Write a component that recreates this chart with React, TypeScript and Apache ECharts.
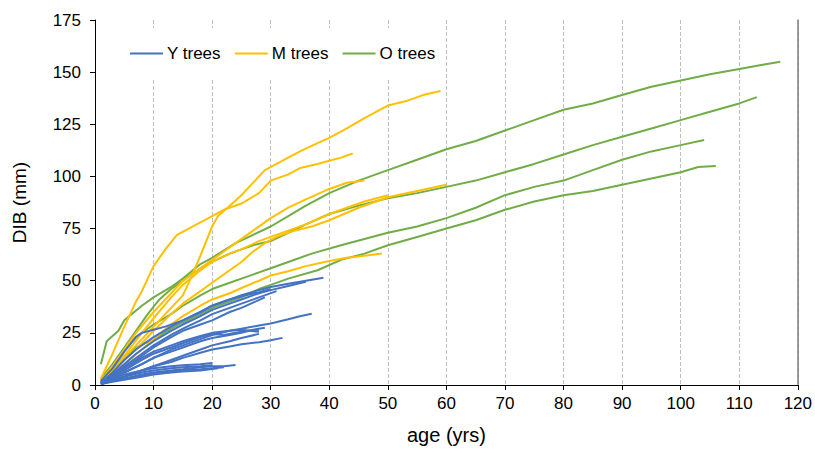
import React, { useEffect, useRef } from "react";
import * as echarts from "echarts";

// ---- Y trees (blue) ----
const U1: [number, number][] = [[1,1],[3,6],[5,12],[7,17],[10,23],[13,28],[15,31],[18,35],[20,38],[23,41],[25,43],[28,45.5],[30,47],[33,48.5],[36,50],[39,51.4]];
const U2: [number, number][] = [[1,1],[3,5],[5,10],[7,15],[10,21],[13,26],[15,29],[18,33],[20,36],[23,39],[25,41],[28,44],[30,45.5],[33,47.5],[36,49.5]];
const U3: [number, number][] = [[1,2],[3,8],[5,16],[7,23],[8,25],[10,26.5],[12,28],[15,31],[18,35],[20,38],[23,41],[25,42.5],[28,44.5],[30,46]];
const U4: [number, number][] = [[1,1],[3,5],[5,9],[8,15],[10,19],[13,24],[15,27],[18,31],[20,34],[23,37],[25,39],[28,42],[31,45]];
const U5: [number, number][] = [[1,1],[3,4],[5,8],[8,14],[10,18],[13,23],[15,26],[18,29],[20,31],[23,35],[25,37],[27,39.5],[29,42]];
const M1: [number, number][] = [[1,1],[3,3],[5,6],[8,10],[10,13],[13,17],[15,19],[18,22],[20,24],[23,26],[25,27],[28,28.5],[30,29.5],[33,31.5],[35,33],[37,34.2]];
const M2: [number, number][] = [[1,0.5],[3,2],[5,4],[8,7],[10,9],[13,11],[15,13],[18,15.5],[20,17],[23,18.5],[25,19.5],[28,20.5],[30,21.5],[32,22.6]];
const M3: [number, number][] = [[1,1],[3,3],[5,6],[8,10],[10,13],[13,16],[15,18],[18,21],[20,22.5],[23,24],[25,25],[27,26.5],[29,27.5]];
const M4: [number, number][] = [[1,1],[3,4],[5,7],[8,12],[10,15],[13,18],[15,20],[18,23],[20,24.5],[22,24],[24,25],[26,26],[28,26.5]];
const M5: [number, number][] = [[1,1],[3,4],[5,8],[8,13],[10,16],[13,19],[15,21],[18,23.5],[20,25],[23,26],[25,26.5],[28,25.5]];
const M6: [number, number][] = [[1,0.5],[3,2],[5,4],[8,7],[10,9],[13,12],[15,14],[18,17],[20,19],[23,21],[25,22.5],[28,24.5]];
const L1: [number, number][] = [[1,0.5],[3,2],[5,3],[8,5],[10,6],[13,7],[15,7.5],[18,8.5],[20,9],[22,9],[24,9.6]];
const L2: [number, number][] = [[1,0.5],[3,2],[5,3],[8,4.5],[10,5.5],[13,6.5],[15,7],[18,7.5],[20,8],[22,8.5]];
const L3: [number, number][] = [[1,1],[3,2.5],[5,4],[8,6],[10,7],[13,8],[15,8.5],[18,9],[20,9.5]];
const L4: [number, number][] = [[1,0.5],[3,1.5],[5,2.5],[8,4],[10,5],[13,6],[15,6.5],[18,7],[21,8]];
const L5: [number, number][] = [[1,1],[3,3],[5,5],[8,7],[10,8],[13,9],[15,9.5],[18,10],[20,10.5]];

// ---- M trees (yellow) ----
const Y1: [number, number][] = [[1,2],[3,7],[5,13],[8,22],[10,28],[12,34],[14,40],[15,43],[16,49],[18,62],[20,76],[21,81],[23,86],[25,91],[27,97],[29,103],[31,106],[33,109],[35,112],[38,116],[40,118.5],[43,123],[46,128],[48,131],[50,134],[53,136],[56,139],[59,141]];
const Y2: [number, number][] = [[1,3],[3,15],[5,28],[7,40],[8,45],[10,57],[12,65],[14,72],[16,75],[18,78],[20,81],[22,84],[25,87],[28,92],[30,98],[33,101],[35,104],[38,106],[40,107.5],[42,109],[44,111]];
const Y3: [number, number][] = [[1,2],[3,9],[5,17],[7,25],[10,35],[13,44],[15,50],[18,56],[20,60],[22,64],[24,68],[27,74],[30,80],[33,85],[36,89],[40,94],[43,97],[46,98]];
const Y4: [number, number][] = [[1,2],[3,8],[5,14],[8,25],[10,32],[13,42],[15,48],[18,55],[20,59],[23,63],[25,65],[28,69],[30,71],[33,74],[36,77],[40,82],[43,85],[46,88],[50,91]];
const Y5: [number, number][] = [[1,1],[3,6],[5,12],[8,20],[10,26],[13,34],[15,39],[18,45],[20,49],[23,55],[25,59],[27,64],[29,68],[31,71],[34,74],[37,76],[40,79],[45,85],[50,90],[55,93],[60,96]];
const Y6: [number, number][] = [[1,1],[3,5],[5,10],[8,17],[10,22],[13,29],[15,33],[18,38],[20,41],[23,44],[25,46.5],[28,50],[30,52.5],[33,54.5],[36,57],[40,59.5],[43,61],[46,62],[49,63]];

// ---- O trees (green) ----
const G1: [number, number][] = [[1,10],[2,21],[4,26],[5,31],[8,38],[10,42],[13,47],[15,51],[18,58],[20,61],[24,68],[27,72],[30,76],[33,81],[36,86],[40,92],[45,98],[50,103],[55,108],[60,113],[65,117],[70,122],[75,127],[80,132],[85,135],[90,139],[95,143],[100,146],[105,149],[110,151.5],[114,153.5],[117,155]];
const G2: [number, number][] = [[1,3],[3,10],[5,18],[7,26],[9,34],[11,41],[13,46],[15,50],[18,56],[20,59],[23,63],[25,65],[27,67],[30,69],[33,73],[36,77],[40,82],[45,86],[50,89.5],[55,92],[60,95],[65,98],[70,102],[75,106],[80,110.5],[85,115],[90,119],[95,123],[100,127],[105,131],[110,135],[113,138]];
const G3: [number, number][] = [[1,2],[3,9],[5,17],[7,23],[10,29],[13,34],[15,38],[18,43],[20,46],[23,49],[25,51],[28,54],[30,56],[33,59],[37,63],[42,67],[46,70],[50,73],[55,76],[60,80],[65,85],[70,91],[75,95],[80,98],[85,103],[90,108],[95,112],[100,115],[104,117.5]];
const G4: [number, number][] = [[1,1],[3,7],[5,13],[7,18],[10,22],[13,27],[15,30],[18,34],[20,37],[23,40],[25,42],[28,46],[30,48],[33,51],[38,55],[42,60],[46,63],[50,67],[55,71],[60,75],[65,79],[70,84],[75,88],[80,91],[85,93],[90,96],[95,99],[100,102],[103,104.5],[106,105]];

const Y_LINES = [U1, U2, U3, U4, U5, M1, M2, M3, M4, M5, M6, L1, L2, L3, L4, L5];
const M_LINES = [Y1, Y2, Y3, Y4, Y5, Y6];
const O_LINES = [G1, G2, G3, G4];

const LEGEND_NAMES = ["Y trees", "M trees", "O trees"];
const X_TICKS = { min: 0, max: 120, interval: 10 };
const Y_TICKS = { min: 0, max: 175, interval: 25 };

const BLUE = "#4472C4";
const YELLOW = "#FFC000";
const GREEN = "#70AD47";
const FONT = "'Liberation Sans', Arial, sans-serif";

export default function App() {
  const ref = useRef<HTMLDivElement>(null);
  useEffect(() => {
    if (!ref.current) return;
    const chart = echarts.init(ref.current, undefined, { renderer: "svg" });
    const mk = (name: string, color: string, lines: [number, number][][], z: number) =>
      lines.map((d) => ({
        type: "line",
        name,
        data: d,
        symbol: "none",
        showSymbol: false,
        z,
        lineStyle: { width: 2, color },
        itemStyle: { color },
      }));
    const series = [
      ...mk(LEGEND_NAMES[2], GREEN, O_LINES, 2),
      ...mk(LEGEND_NAMES[1], YELLOW, M_LINES, 3),
      ...mk(LEGEND_NAMES[0], BLUE, Y_LINES, 4),
    ];
    chart.setOption({
      animation: false,
      textStyle: { fontFamily: FONT },
      grid: { left: 95, right: 17, top: 20, bottom: 58 },
      legend: {
        data: LEGEND_NAMES,
        left: 122,
        top: 28,
        padding: [17, 8, 17, 8],
        backgroundColor: "#ffffff",
        icon: "rect",
        itemWidth: 33,
        itemHeight: 2,
        itemGap: 14,
        textStyle: { fontSize: 17, color: "#000", fontFamily: FONT, padding: [0, 0, 0, -1] },
        z: 10,
      },
      xAxis: {
        type: "value",
        ...X_TICKS,
        name: "age (yrs)",
        nameLocation: "middle",
        nameGap: 40,
        nameTextStyle: { fontSize: 20, color: "#000", fontFamily: FONT },
        axisLine: { show: true, lineStyle: { color: "#000", width: 1 } },
        axisTick: { show: true, length: 5, lineStyle: { color: "#000" } },
        axisLabel: { fontSize: 17, color: "#000", margin: 10, fontFamily: FONT },
        splitLine: { show: true, lineStyle: { type: "dashed", color: "#bfbfbf", width: 1 } },
      },
      yAxis: [
        {
          type: "value",
          ...Y_TICKS,
          name: "DIB (mm)",
          nameLocation: "middle",
          nameGap: 66,
          nameTextStyle: { fontSize: 19, color: "#000", fontFamily: FONT },
          axisLine: { show: true, lineStyle: { color: "#000", width: 1 } },
          axisTick: { show: true, length: 5, lineStyle: { color: "#000" } },
          axisLabel: { fontSize: 17, color: "#000", margin: 14, fontFamily: FONT },
          splitLine: { show: false },
        },
        {
          type: "value",
          ...Y_TICKS,
          position: "right",
          axisLine: { show: true, lineStyle: { color: "#7f7f7f", width: 1.5 } },
          axisTick: { show: false },
          axisLabel: { show: false },
          splitLine: { show: false },
        },
      ],
      series,
    });
    return () => chart.dispose();
  }, []);
  return (
    <div
      ref={ref}
      style={{ position: "fixed", left: 0, top: 0, width: 815, height: 450, background: "#fff" }}
    />
  );
}
